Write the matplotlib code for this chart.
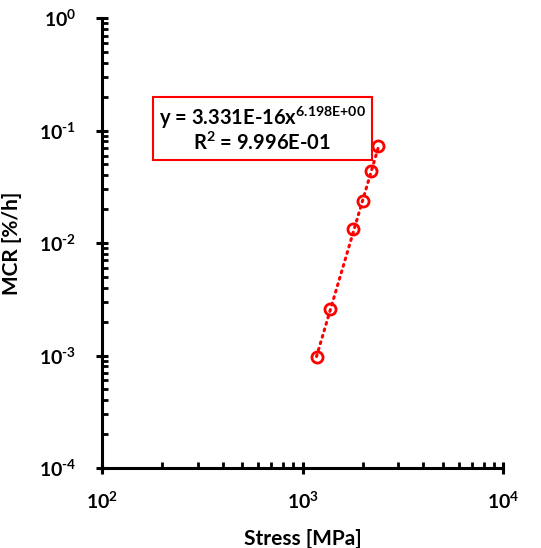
import numpy as np
import matplotlib
matplotlib.use('Agg')
import matplotlib.pyplot as plt
from matplotlib.ticker import LogLocator, FuncFormatter, NullFormatter

# ------------ dados -------------- #
stress = [1174, 1377, 1794, 2011, 2204, 2388]          # MPa
mcr = [9.7e-4, 2.59e-3, 1.33e-2, 2.36e-2, 4.37e-2, 7.28e-2]  # %/h
eq_text = 'y = 3.331E-16x$^{\\text{6.198E+00}}$\nR$^{\\text{2}}$ = 9.996E-01'

plt.rcParams['font.family'] = ['Lato', 'DejaVu Sans']
plt.rcParams['font.weight'] = 'bold'
plt.rcParams['mathtext.fontset'] = 'custom'
plt.rcParams['mathtext.rm'] = 'Lato:bold'
plt.rcParams['mathtext.bf'] = 'Lato:bold'
plt.rcParams['mathtext.it'] = 'Lato:bold'

fig = plt.figure(figsize=(5.41, 5.48), dpi=100)
ax = fig.add_axes([0.1885, 0.146, 0.7415, 0.821])

# ajuste potencia (linha de tendencia)
coef = np.polyfit(np.log10(stress), np.log10(mcr), 1)
xs = np.logspace(np.log10(stress[0]), np.log10(stress[-1]), 50)
ax.plot(xs, 10 ** np.polyval(coef, np.log10(xs)), color='red', lw=2.2,
        linestyle=(0, (0.6, 1.6)), dash_capstyle='round')
ax.plot(stress, mcr, 'o', ms=8, mfc='none', mec='red', mew=2)

ax.set_xscale('log')
ax.set_yscale('log')
ax.set_xlim(1e2, 1e4)
ax.set_ylim(1e-4, 1e0)

for s in ['top', 'right']:
    ax.spines[s].set_visible(False)
for s in ['left', 'bottom']:
    ax.spines[s].set_linewidth(2.2)

fmt = FuncFormatter(lambda v, p: '10$^{\\text{%d}}$' % int(round(np.log10(v))))
ax.xaxis.set_major_locator(LogLocator(base=10, numticks=10))
ax.yaxis.set_major_locator(LogLocator(base=10, numticks=10))
ax.xaxis.set_minor_locator(LogLocator(base=10, subs=np.arange(2, 10), numticks=20))
ax.yaxis.set_minor_locator(LogLocator(base=10, subs=np.arange(2, 10), numticks=20))
ax.xaxis.set_major_formatter(fmt)
ax.yaxis.set_major_formatter(fmt)
ax.xaxis.set_minor_formatter(NullFormatter())
ax.yaxis.set_minor_formatter(NullFormatter())

ax.tick_params(which='major', direction='inout', length=9, width=2.2, labelsize=14)
ax.tick_params(axis='x', which='major', pad=12)
ax.tick_params(axis='y', which='major', pad=14)
ax.tick_params(which='minor', direction='in', length=4, width=2)

ax.set_xlabel('Stress [MPa]', fontsize=15, fontweight='bold', labelpad=12)
ax.set_ylabel('MCR [%/h]', fontsize=15, fontweight='bold', labelpad=12)

ax.text(0.40, 0.752, eq_text, transform=ax.transAxes, ha='center', va='center',
        fontsize=14.5, fontweight='bold', linespacing=1.05,
        bbox=dict(boxstyle='square,pad=0.3', fc='white', ec='red', lw=1.5))

plt.savefig('out.png', dpi=100)
